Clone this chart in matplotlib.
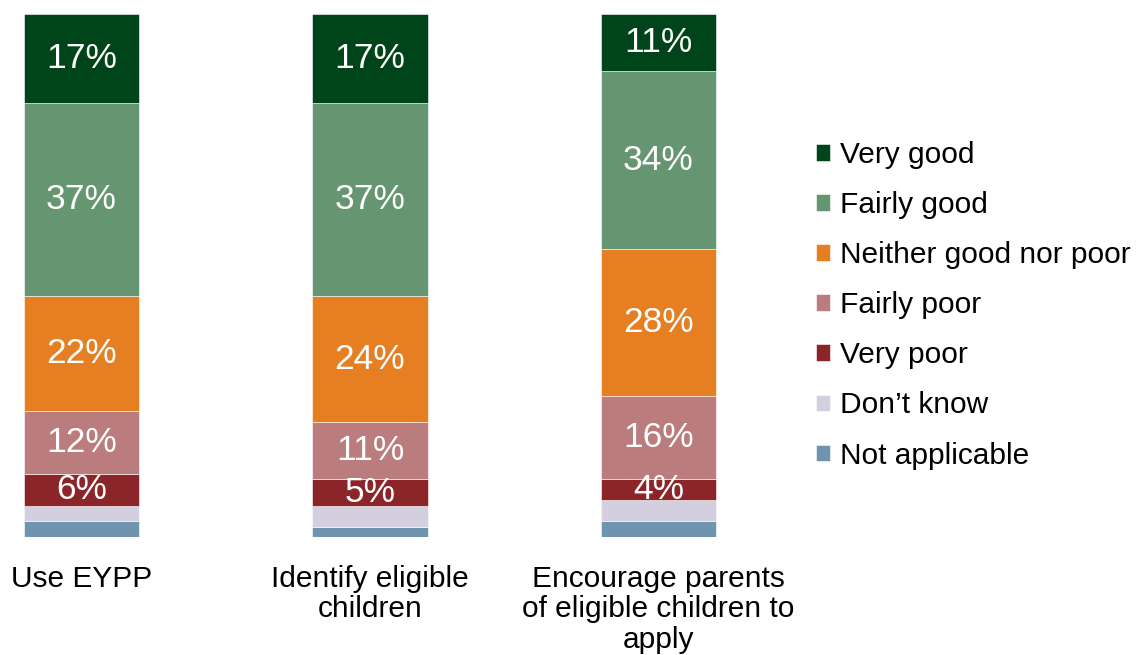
import matplotlib.pyplot as plt
import numpy as np

plt.rcParams['font.family'] = ['Liberation Sans', 'DejaVu Sans']

categories = ['Use EYPP', 'Identify eligible\nchildren',
              'Encourage parents\nof eligible children to\napply']
responses = ['Not applicable', "Don\u2019t know", 'Very poor', 'Fairly poor',
             'Neither good nor poor', 'Fairly good', 'Very good']
colors = ['#7094AE', '#D3CFDE', '#8B252A', '#BA7C7C',
          '#E67E22', '#659671', '#00441A']

# values per response, for the three categories
not_applicable = [3, 2, 3]
dont_know = [3, 4, 4]
very_poor = [6, 5, 4]
fairly_poor = [12, 11, 16]
neither = [22, 24, 28]
fairly_good = [37, 37, 34]
very_good = [17, 17, 11]

series = [not_applicable, dont_know, very_poor, fairly_poor,
          neither, fairly_good, very_good]
# the two smallest groups carry no value label in the original
labelled = [False, False, True, True, True, True, True]

fig = plt.figure(figsize=(11.36, 6.55), dpi=100)
ax = fig.add_axes([0, 0.1802, 0.669, 0.7985])

x = np.arange(len(categories))
bottom = np.zeros(len(categories))
handles = []
for name, vals, col, lab in zip(responses, series, colors, labelled):
    vals = np.array(vals, dtype=float)
    b = ax.bar(x, vals, 0.4, bottom=bottom, color=col, label=name,
               edgecolor='white', linewidth=0.4)
    handles.append(b)
    if lab:
        for xi, v, bt in zip(x, vals, bottom):
            ax.text(xi, bt + v / 2, f'{int(v)}%', ha='center', va='center',
                    color='white', fontsize=25.5)
    bottom += vals

ax.set_xlim(-0.2825, 2.352)
ax.set_ylim(0, 100)
ax.set_yticks([])
ax.set_xticks(x)
ax.set_xticklabels(categories, fontsize=21.5, linespacing=1.12)
ax.tick_params(axis='x', length=0, pad=20)
for s in ax.spines.values():
    s.set_visible(False)

fig.legend(handles[::-1], responses[::-1], loc='center left',
           bbox_to_anchor=(816 / 1136, 0.534), frameon=False, fontsize=21.5,
           handlelength=0.47, handleheight=0.47, handletextpad=0.33,
           labelspacing=0.74, borderpad=0, borderaxespad=0)

plt.savefig('out.png')
